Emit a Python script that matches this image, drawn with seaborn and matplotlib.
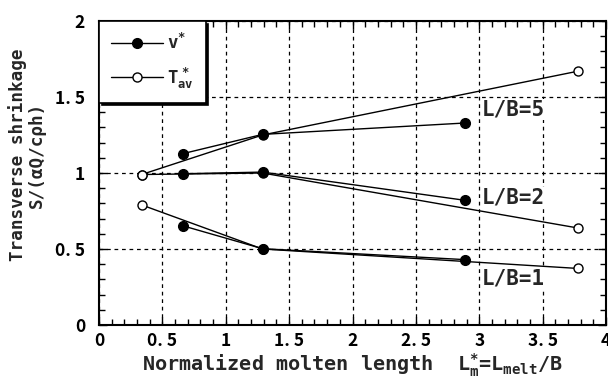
import numpy as np
import pandas as pd
import matplotlib
matplotlib.use("Agg")
import matplotlib.pyplot as plt
from matplotlib.lines import Line2D
from matplotlib.ticker import MultipleLocator
import seaborn as sns

# ---- data ----
v_x = [0.66, 1.29, 2.89]
v_lb5 = [1.127, 1.254, 1.329]
v_lb2 = [0.995, 1.006, 0.82]
v_lb1 = [0.653, 0.502, 0.43]

t_x = [0.336, 1.29, 3.78]
t_lb5 = [0.99, 1.25, 1.67]
t_lb2 = [0.99, 1.00, 0.638]
t_lb1 = [0.79, 0.50, 0.372]

lb_labels = ["L/B=5", "L/B=2", "L/B=1"]

x_ticks = [0, 0.5, 1, 1.5, 2, 2.5, 3, 3.5, 4]
x_ticklabels = ["0", "0. 5", "1", "1. 5", "2", "2. 5", "3", "3. 5", "4"]
y_ticks = [0, 0.5, 1, 1.5, 2]
y_ticklabels = ["0", "0. 5", "1", "1. 5", "2"]

sns.set_style("ticks")
plt.rcParams["font.family"] = ["DejaVu Sans Mono", "DejaVu Sans"]
plt.rcParams["font.weight"] = "bold"
plt.rcParams["mathtext.fontset"] = "custom"
plt.rcParams["mathtext.rm"] = "DejaVu Sans Mono:bold"
plt.rcParams["mathtext.it"] = "DejaVu Sans Mono:bold"

fig = plt.figure(figsize=(6.08, 3.83), dpi=100)
ax = fig.add_axes([99 / 608, 1 - 325 / 383, (606 - 99) / 608, (325 - 21) / 383])

# T_av* (open) first, then v* (filled) on top
for ys in (t_lb5, t_lb2, t_lb1):
    df = pd.DataFrame({"x": t_x, "y": ys})
    sns.lineplot(data=df, x="x", y="y", ax=ax, color="k", lw=1.0, sort=False,
                 marker="o", markersize=6.5, markerfacecolor="white",
                 markeredgecolor="k", markeredgewidth=1.0, zorder=3)
for ys in (v_lb5, v_lb2, v_lb1):
    df = pd.DataFrame({"x": v_x, "y": ys})
    sns.lineplot(data=df, x="x", y="y", ax=ax, color="k", lw=1.0, sort=False,
                 marker="o", markersize=7, markerfacecolor="k",
                 markeredgecolor="k", markeredgewidth=1.0, zorder=4)

ax.set_xlim(0, 4)
ax.set_ylim(0, 2)
ax.set_xticks(x_ticks)
ax.set_xticklabels(x_ticklabels)
ax.set_yticks(y_ticks)
ax.set_yticklabels(y_ticklabels)
ax.xaxis.set_minor_locator(MultipleLocator(0.1))
ax.yaxis.set_minor_locator(MultipleLocator(0.1))

tick_family = ["Noto Sans CJK JP", "DejaVu Sans"]
for lab in ax.get_xticklabels() + ax.get_yticklabels():
    lab.set_fontfamily(tick_family)
    lab.set_fontsize(12.5)
    lab.set_fontweight("bold")

ax.tick_params(which="both", direction="in", top=True, right=True, colors="k")
ax.tick_params(which="major", length=6, width=1.0)
ax.tick_params(which="minor", length=4, width=1.0)
ax.tick_params(axis="x", which="major", pad=5)
ax.tick_params(axis="y", which="major", pad=10)

ax.grid(True, which="major", color="k", lw=0.9, ls=(0, (3, 3)))
for s in ax.spines.values():
    s.set_linewidth(1.5)
    s.set_color("k")

ax.set_xlabel(r"Normalized molten length  L$_{m}^{*}$=L$_{melt}$/B",
              fontsize=14.5, labelpad=1, fontweight="bold")
ax.set_ylabel("Transverse shrinkage\nS/(αQ/cρh)", fontsize=12.7,
              linespacing=1.05, fontweight="bold")
ax.yaxis.set_label_coords(-0.105, 0.56)

# curve labels
lb_pos = [(3.02, 1.42), (3.02, 0.84), (3.02, 0.305)]
for txt, (px, py) in zip(lb_labels, lb_pos):
    ax.text(px, py, txt, fontsize=15, va="center", ha="left", fontweight="bold",
            bbox=dict(facecolor="white", edgecolor="none", pad=0.5), zorder=5)

handles = [
    Line2D([], [], color="k", lw=1.0, marker="o", markersize=7, markerfacecolor="k"),
    Line2D([], [], color="k", lw=1.0, marker="o", markersize=6.5, markerfacecolor="white"),
]
leg = ax.legend(handles, [r"v$^{*}$", r"T$_{av}^{\ *}$"], loc="upper left",
                bbox_to_anchor=(0, 1), borderaxespad=0, fancybox=False,
                frameon=True, framealpha=1, edgecolor="k",
                prop={"size": 12.5, "weight": "bold"},
                handlelength=3.0, handletextpad=0.2, labelspacing=0.7,
                borderpad=0.7, shadow={"color": "k", "alpha": 1})
leg.get_frame().set_linewidth(1.2)
leg.set_zorder(10)

fig.savefig("out.png", dpi=100)
